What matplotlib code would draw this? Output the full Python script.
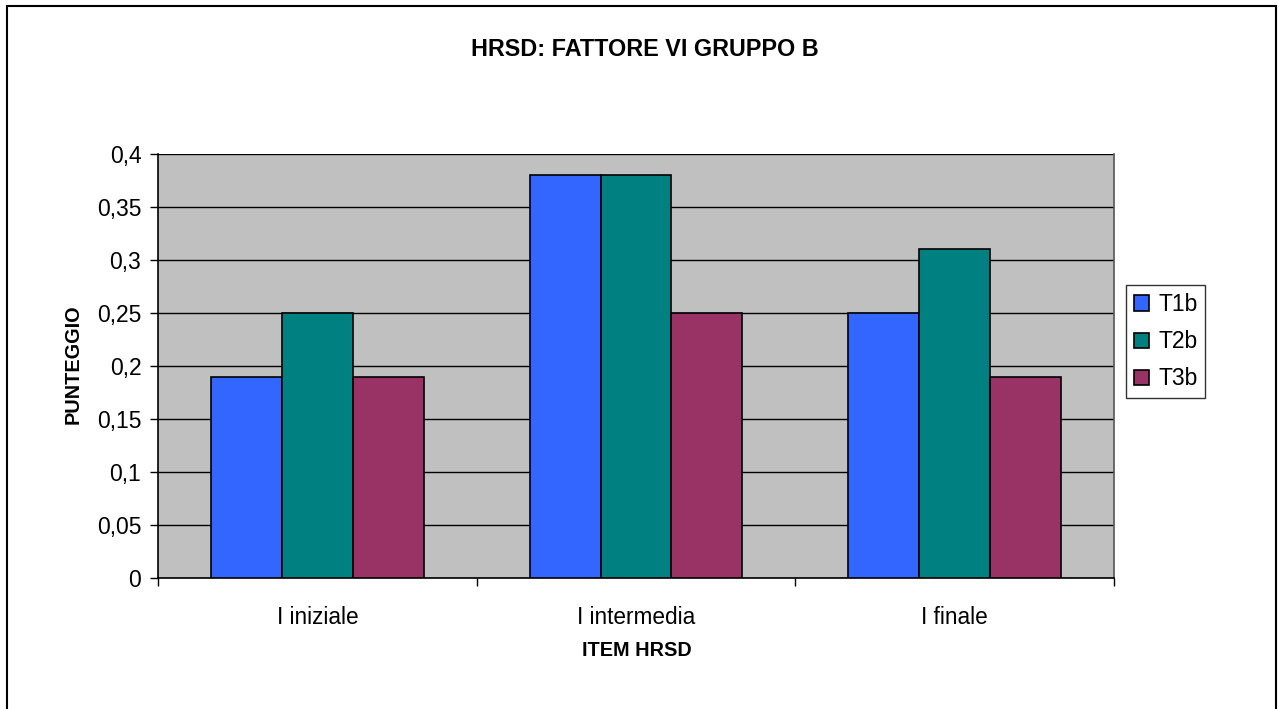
import numpy as np
import matplotlib.pyplot as plt
from matplotlib.patches import Rectangle

plt.rcParams['font.family'] = ['Liberation Sans', 'DejaVu Sans']

categories = ['I iniziale', 'I intermedia', 'I finale']
series = ['T1b', 'T2b', 'T3b']
t1b = [0.19, 0.38, 0.25]
t2b = [0.25, 0.38, 0.31]
t3b = [0.19, 0.25, 0.19]
colors = ['#3366FF', '#008080', '#993366']
yticks = [0, 0.05, 0.1, 0.15, 0.2, 0.25, 0.3, 0.35, 0.4]
ytick_labels = ['0', '0,05', '0,1', '0,15', '0,2', '0,25', '0,3', '0,35', '0,4']

W, H = 1279, 709
fig = plt.figure(figsize=(W / 100, H / 100), dpi=100)
fig.patches.append(Rectangle((7 / W, -0.01), (1276 - 7) / W, 1 - 6 / H + 0.01,
                             transform=fig.transFigure, fill=False,
                             edgecolor='black', linewidth=1.5))

ax = fig.add_axes([158 / W, 1 - 578 / H, (1114 - 158) / W, (578 - 154) / H])
ax.set_facecolor('#C0C0C0')

x = np.arange(len(categories))
bw = 1 / 4.5
for i, (vals, c, name) in enumerate(zip([t1b, t2b, t3b], colors, series)):
    ax.bar(x + (i - 1) * bw, vals, bw, color=c, edgecolor='black',
           linewidth=1.2, label=name, zorder=3)

ax.set_xlim(-0.5, 2.5)
ax.set_ylim(0, 0.4)
ax.set_yticks(yticks)
ax.set_yticklabels(ytick_labels, fontsize=16.5)
ax.yaxis.grid(True, color='black', linewidth=1, zorder=1)
ax.set_axisbelow(True)

ax.set_xticks([-0.5, 0.5, 1.5, 2.5])
ax.set_xticklabels([])
ax.set_xticks(x, minor=True)
ax.set_xticklabels(categories, minor=True, fontsize=16.3)
ax.tick_params(axis='x', which='minor', length=0, pad=20)
ax.tick_params(axis='x', which='major', length=6, direction='out', width=1)
ax.tick_params(axis='y', length=6, direction='out', width=1, pad=6)

ax.spines['top'].set_visible(False)
ax.spines['right'].set_color('#555555')
ax.spines['right'].set_linewidth(1.2)
ax.spines['left'].set_linewidth(1.2)
ax.spines['bottom'].set_linewidth(1.2)

fig.text(645 / W, 1 - 50 / H, 'HRSD: FATTORE VI GRUPPO B',
         ha='center', va='center', fontsize=16.8, fontweight='bold')
fig.text(637 / W, 1 - 650 / H, 'ITEM HRSD', ha='center', va='center',
         fontsize=14.3, fontweight='bold')
fig.text(73 / W, 1 - 364 / H, 'PUNTEGGIO', ha='center', va='center',
         rotation=90, fontsize=14.3, fontweight='bold')

leg = fig.legend(loc='upper left', bbox_to_anchor=(1126 / W, 1 - 285 / H),
                 fontsize=16.5, frameon=True, fancybox=False, edgecolor='black',
                 handlelength=0.65, handleheight=0.65, handletextpad=0.4,
                 borderpad=0.35, labelspacing=0.62, borderaxespad=0)
leg.get_frame().set_linewidth(1)

fig.savefig('out.png', dpi=100)
